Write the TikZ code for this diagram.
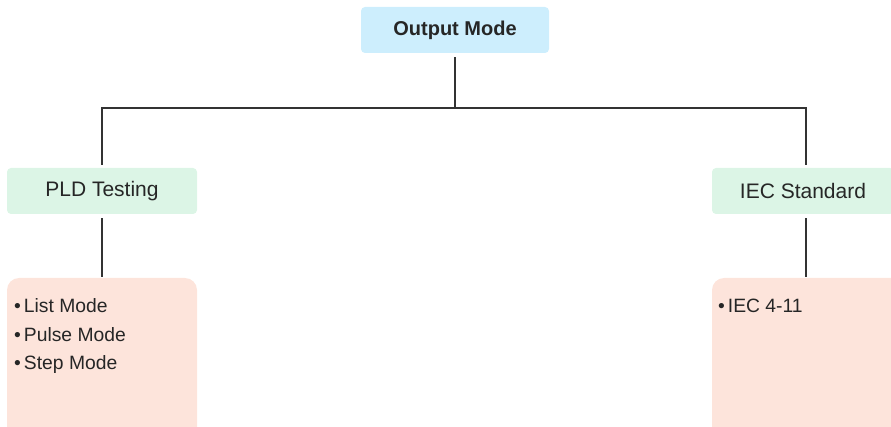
\documentclass[tikz,border=0pt]{standalone}
\usepackage{fontspec}
\setmainfont{Liberation Sans}
\begin{document}
\begin{tikzpicture}[x=1pt,y=1pt,
  conn/.style={draw=black!80, line width=1.8pt},
  topbox/.style={fill=topfill, rounded corners=4pt, minimum width=188pt, minimum height=46pt, inner sep=0pt, font=\fontsize{20}{24}\selectfont\bfseries, text=black!85},
  midbox/.style={fill=midfill, rounded corners=4pt, minimum width=190pt, minimum height=46pt, inner sep=0pt, font=\fontsize{21}{25}\selectfont, text=black!85},
  detbox/.style={fill=detfill, rounded corners=12pt},
  item/.style={anchor=west, inner sep=0pt, font=\fontsize{19.3}{23}\selectfont, text=black!85}]
\definecolor{topfill}{HTML}{CDEEFD}
\definecolor{midfill}{HTML}{DCF5E6}
\definecolor{detfill}{HTML}{FDE4DB}
\useasboundingbox (0,0) rectangle (891,-427);
\node[topbox] (om) at (455,-30) {Output Mode};
\node[midbox] (pld) at (102,-191) {PLD Testing};
\node[midbox, minimum width=182pt] (iec) at (803,-191) {IEC Standard};
\path[detbox] (7,-278) rectangle (197,-440);
\path[detbox] (712,-278) rectangle (905,-440);
\node[item] (l1) at (14,-305.5) {\textbullet\hspace{3pt}List Mode};
\node[item] (l2) at (14,-334.5) {\textbullet\hspace{3pt}Pulse Mode};
\node[item] (l3) at (14,-364.5) {\textbullet\hspace{3pt}Step Mode};
\node[item] (r1) at (718,-305.5) {\textbullet\hspace{3pt}IEC 4-11};
\coordinate (j) at (455,-108);
\coordinate (pd) at (102,-277);
\coordinate (id) at (806,-277);
\draw[conn] ([yshift=-4pt]om.south) -- (j);
\draw[conn] (j) -| ([xshift=3pt,yshift=3pt]iec.north);
\draw[conn] (j) -| ([yshift=3pt]pld.north);
\draw[conn] ([yshift=-4pt]pld.south) -- (pd);
\draw[conn] ([xshift=3pt,yshift=-4pt]iec.south) -- (id);
\end{tikzpicture}
\end{document}
